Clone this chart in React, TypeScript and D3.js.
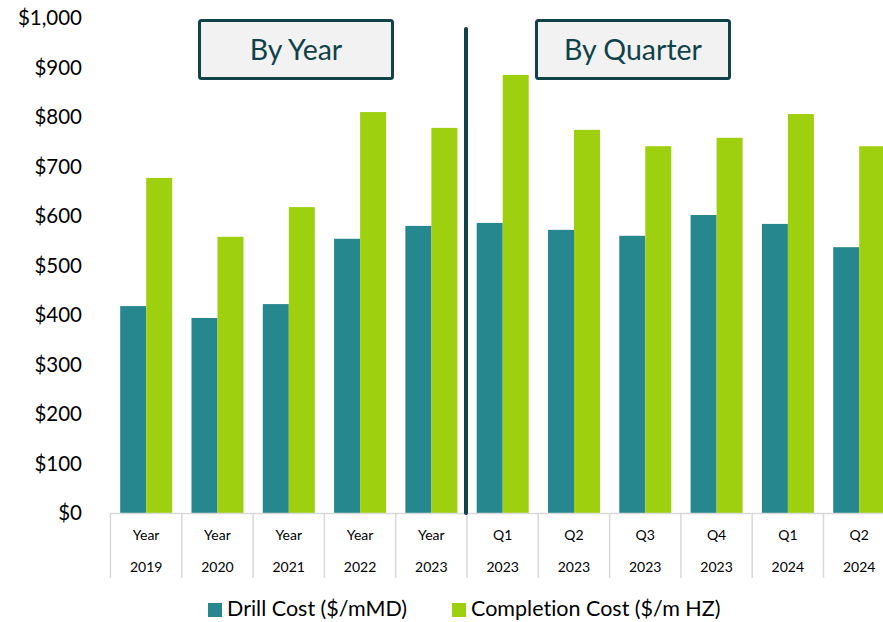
import * as d3 from 'd3';
import { useEffect, useRef } from 'react';

// categories (two label lines each)
const periods = ['Year', 'Year', 'Year', 'Year', 'Year', 'Q1', 'Q2', 'Q3', 'Q4', 'Q1', 'Q2'];
const years = ['2019', '2020', '2021', '2022', '2023', '2023', '2023', '2023', '2023', '2024', '2024'];

// values
const drillCost = [418, 394, 422, 554, 580, 586, 572, 560, 602, 584, 537];
const completionCost = [677, 558, 618, 810, 778, 885, 774, 741, 758, 806, 741];

const seriesNames = ['Drill Cost ($/mMD)', 'Completion Cost ($/m HZ)'];
const seriesColors = ['#26878f', '#9ed010'];
const yTicks = [0, 100, 200, 300, 400, 500, 600, 700, 800, 900, 1000];

const FONT = 'Lato, "Open Sans", sans-serif';
const DARK = '#0f4249';

export default function App() {
  const ref = useRef<SVGSVGElement>(null);

  useEffect(() => {
    const svg = d3.select(ref.current);
    svg.selectAll('*').remove();

    const keys = periods.map((p, i) => i);
    const rows = keys.map(i => ({ i, values: [drillCost[i], completionCost[i]] }));

    const x0 = d3.scaleBand<number>().domain(keys).range([110.5, 894.8]).padding(0);
    const x1 = d3.scaleBand<number>().domain([0, 1]).range([9.7, 61.7]).padding(0);
    const y = d3.scaleLinear().domain([0, 1000]).range([513, 18]);

    // y labels
    svg.append('g')
      .selectAll('text')
      .data(yTicks)
      .enter()
      .append('text')
      .attr('x', 82)
      .attr('y', d => y(d))
      .attr('dy', '0.35em')
      .attr('text-anchor', 'end')
      .attr('font-family', FONT)
      .attr('font-size', 20.5)
      .attr('fill', '#000')
      .text(d => d3.format('$,')(d));

    // bars
    const groups = svg.append('g')
      .selectAll('g')
      .data(rows)
      .enter()
      .append('g')
      .attr('transform', d => `translate(${x0(d.i)},0)`);

    groups.selectAll('rect')
      .data(d => d.values.map((v, s) => ({ v, s })))
      .enter()
      .append('rect')
      .attr('x', d => x1(d.s)!)
      .attr('width', x1.bandwidth())
      .attr('y', d => y(d.v))
      .attr('height', d => y(0) - y(d.v))
      .attr('fill', d => seriesColors[d.s]);

    // category table under the axis
    const axis = svg.append('g');
    axis.append('line')
      .attr('x1', 110.5).attr('x2', 894.8)
      .attr('y1', y(0) + 0.5).attr('y2', y(0) + 0.5)
      .attr('stroke', '#d9d9d9').attr('stroke-width', 1.5);
    axis.selectAll('line.sep')
      .data(keys.concat([keys.length]))
      .enter()
      .append('line')
      .attr('class', 'sep')
      .attr('x1', d => (d < keys.length ? x0(d)! : 894.8))
      .attr('x2', d => (d < keys.length ? x0(d)! : 894.8))
      .attr('y1', y(0))
      .attr('y2', 578)
      .attr('stroke', '#d9d9d9')
      .attr('stroke-width', 1.5);
    axis.selectAll('text.period')
      .data(keys)
      .enter()
      .append('text')
      .attr('x', d => x0(d)! + x0.bandwidth() / 2)
      .attr('y', 535)
      .attr('dy', '0.35em')
      .attr('text-anchor', 'middle')
      .attr('font-family', FONT)
      .attr('font-size', 14)
      .text(d => periods[d]);
    axis.selectAll('text.year')
      .data(keys)
      .enter()
      .append('text')
      .attr('x', d => x0(d)! + x0.bandwidth() / 2)
      .attr('y', 567)
      .attr('dy', '0.35em')
      .attr('text-anchor', 'middle')
      .attr('font-family', FONT)
      .attr('font-size', 14)
      .text(d => years[d]);

    // divider between yearly and quarterly
    svg.append('line')
      .attr('x1', x0(5)! - 1).attr('x2', x0(5)! - 1)
      .attr('y1', 29).attr('y2', y(0))
      .attr('stroke', DARK)
      .attr('stroke-width', 4)
      .attr('stroke-linecap', 'round');

    // section boxes
    const boxes = [
      { label: 'By Year', x: 199.5, w: 193 },
      { label: 'By Quarter', x: 536.5, w: 193 },
    ];
    const b = svg.append('g')
      .selectAll('g')
      .data(boxes)
      .enter()
      .append('g');
    b.append('rect')
      .attr('x', d => d.x)
      .attr('y', 20.5)
      .attr('width', d => d.w)
      .attr('height', 58)
      .attr('rx', 2)
      .attr('fill', '#f2f2f2')
      .attr('stroke', DARK)
      .attr('stroke-width', 3);
    b.append('text')
      .attr('x', d => d.x + d.w / 2)
      .attr('y', 50)
      .attr('dy', '0.35em')
      .attr('text-anchor', 'middle')
      .attr('font-family', FONT)
      .attr('font-size', 28.5)
      .attr('fill', DARK)
      .text(d => d.label);

    // legend
    const legendX = [208, 452];
    const leg = svg.append('g')
      .selectAll('g')
      .data(seriesNames)
      .enter()
      .append('g')
      .attr('transform', (d, i) => `translate(${legendX[i]},608)`);
    leg.append('rect')
      .attr('x', 0).attr('y', -5)
      .attr('width', 14).attr('height', 14)
      .attr('fill', (d, i) => seriesColors[i]);
    leg.append('text')
      .attr('x', 19)
      .attr('dy', '0.35em')
      .attr('font-family', FONT)
      .attr('font-size', 21.5)
      .style('font-variant-ligatures', 'none')
      .attr('fill', '#000')
      .text(d => d);
  }, []);

  return (
    <svg
      ref={ref}
      width={883}
      height={622}
      style={{ position: 'absolute', left: 0, top: 0, background: '#fff' }}
    />
  );
}
